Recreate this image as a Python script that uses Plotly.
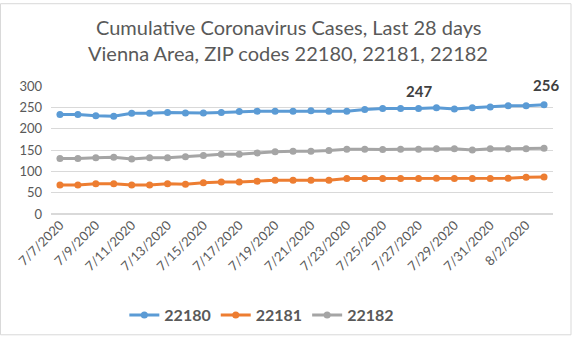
import plotly.graph_objects as go
import datetime as dt

dates = [(dt.date(2020, 7, 7) + dt.timedelta(days=i)) for i in range(28)]
date_labels = [f"{d.month}/{d.day}/{d.year}" for d in dates]

zip_22180 = [233, 233, 230, 229, 236, 236, 238, 237, 237, 238, 240, 241, 241, 241,
             242, 241, 241, 245, 247, 247, 247, 249, 246, 249, 251, 254, 254, 256]
zip_22181 = [68, 68, 71, 71, 68, 68, 71, 70, 73, 75, 75, 77, 79, 79,
             79, 79, 83, 83, 83, 83, 83, 84, 83, 83, 83, 84, 86, 87]
zip_22182 = [130, 130, 132, 133, 129, 132, 132, 134, 137, 140, 140, 143, 146, 147,
             147, 149, 152, 152, 151, 152, 152, 153, 153, 150, 153, 153, 153, 154]

series = [("22180", zip_22180, "#5B9BD5"),
          ("22181", zip_22181, "#ED7D31"),
          ("22182", zip_22182, "#A5A5A5")]

title_lines = ["Cumulative Coronavirus Cases, Last 28 days",
               "Vienna Area, ZIP codes 22180, 22181, 22182"]

W, H = 576, 345
ML, MR, MT, MB = 51, 23, 86, 126
PW, PH = W - ML - MR, H - MT - MB

FONT = "Lato"
fig = go.Figure()
for name, vals, col in series:
    fig.add_trace(go.Scatter(x=date_labels, y=vals, name=name, mode="lines+markers",
                             line=dict(color=col, width=3),
                             marker=dict(color=col, size=7)))

for idx, ys, xs in [(20, 18, 0), (27, 20, 2)]:
    fig.add_annotation(x=date_labels[idx], y=zip_22180[idx], text=f"<b>{zip_22180[idx]}</b>",
                       showarrow=False, yshift=ys, xshift=xs,
                       font=dict(family=FONT, size=15, color="#404040"))

# two-line chart title, centred on the chart area
for line, cy in zip(title_lines, [25, 52]):
    fig.add_annotation(text=line, xref="paper", yref="paper",
                       x=(W / 2 - ML) / PW, y=1 + (MT - cy) / PH,
                       xanchor="center", yanchor="middle", showarrow=False,
                       font=dict(family=FONT, size=20, color="#595959"))

# chart-area border
fig.add_shape(type="rect", xref="paper", yref="paper",
              x0=-(ML - 0.5) / PW, x1=1 + (571 - (W - MR)) / PW,
              y0=-(MB - 0.5) / PH, y1=1 + (MT - 0.5) / PH,
              line=dict(color="#D9D9D9", width=1), layer="below")

fig.update_layout(
    width=W, height=H,
    margin=dict(l=ML, r=MR, t=MT, b=MB),
    paper_bgcolor="white", plot_bgcolor="white",
    font=dict(family=FONT, color="#595959"),
    showlegend=True,
    legend=dict(orientation="h", x=0.42, xanchor="center", y=-0.79, yanchor="middle",
                font=dict(family=FONT, size=16, color="#595959", weight="bold")),
)
fig.update_xaxes(type="category", range=[-0.5, 27.5], tickmode="array",
                 tickvals=date_labels[::2], ticktext=date_labels[::2],
                 tickangle=-45, tickfont=dict(size=13, color="#595959"),
                 showgrid=False, showline=False, ticks="")
fig.update_yaxes(range=[0, 300], dtick=50, showgrid=True, gridcolor="#D9D9D9",
                 gridwidth=1, zeroline=True, zerolinecolor="#D9D9D9",
                 tickfont=dict(size=13, color="#595959"), ticklabelstandoff=8)

fig.write_html("out.html")
